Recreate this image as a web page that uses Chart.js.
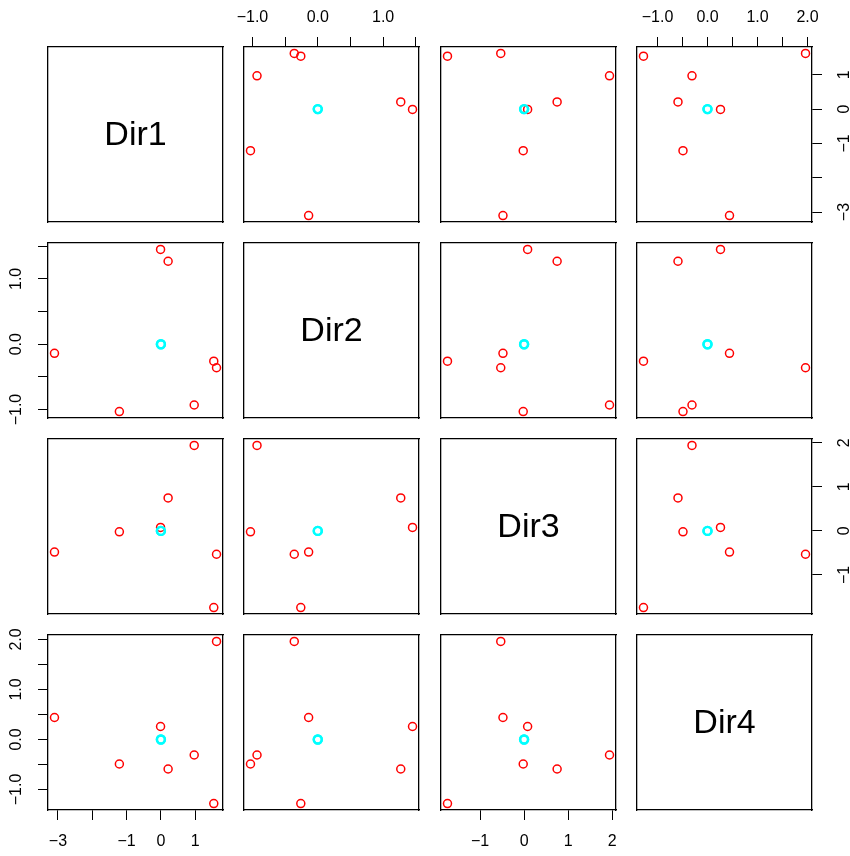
<!DOCTYPE html>
<html>
<head>
<meta charset="utf-8">
<title>pairs Dir1-Dir4</title>
<script src="https://cdn.jsdelivr.net/npm/chart.js@4.4.0/dist/chart.umd.min.js"></script>
<style>
  body { margin: 0; background: #fff; }
  #wrap { position: relative; width: 850px; height: 856px; }
  #wrap canvas { position: absolute; }
</style>
</head>
<body>
<div id="wrap"></div>
<script>
// variable names (diagonal)
const varNames = ['Dir1', 'Dir2', 'Dir3', 'Dir4'];

// red observations, one value per observation
const dir1 = [-3.10, -1.21, -0.01, 0.21, 0.97, 1.54, 1.62];
const dir2 = [-0.14, -1.03, 1.45, 1.27, -0.93, -0.26, -0.36];
const dir3 = [-0.48, -0.02, 0.08, 0.75, 1.94, -1.74, -0.53];
const dir4 = [0.44, -0.49, 0.26, -0.59, -0.31, -1.28, 1.96];

// cyan observations (all sit at the origin)
const cyan1 = [0, 0];
const cyan2 = [0, 0];
const cyan3 = [0, 0];
const cyan4 = [0, 0];

// tick values and labels for each variable
const dir1Ticks = [-3, -2, -1, 0, 1];
const dir1Labels = ['\u22123', '', '\u22121', '0', '1'];
const dir2Ticks = [-1, -0.5, 0, 0.5, 1, 1.5];
const dir2Labels = ['\u22121.0', '', '0.0', '', '1.0', ''];
const dir3Ticks = [-1, 0, 1, 2];
const dir3Labels = ['\u22121', '0', '1', '2'];
const dir4Ticks = [-1, -0.5, 0, 0.5, 1, 1.5, 2];
const dir4Labels = ['\u22121.0', '', '0.0', '', '1.0', '', '2.0'];

const cols = [dir1, dir2, dir3, dir4];
const cyanCols = [cyan1, cyan2, cyan3, cyan4];
const tickVals = [dir1Ticks, dir2Ticks, dir3Ticks, dir4Ticks];
const tickLabs = [dir1Labels, dir2Labels, dir3Labels, dir4Labels];

// layout of the 4x4 grid
const panelLeft = [48, 244, 441, 637];
const panelTop = [47, 243, 439, 635];
const panelSize = 175;
const M = 45;

Chart.defaults.font.family = '"Liberation Sans", Arial, Helvetica, sans-serif';
Chart.defaults.font.size = 16;
Chart.defaults.color = '#000';

// R style range: data range stretched by 4% on each side
function range4(v) {
  const all = v.concat([0]);
  const lo = Math.min(...all), hi = Math.max(...all);
  const d = (hi - lo) * 0.04;
  return [lo - d, hi + d];
}

const diagLabel = {
  id: 'diagLabel',
  afterDraw(chart, args, opts) {
    if (!opts.text) return;
    const { ctx, chartArea: a } = chart;
    ctx.save();
    ctx.font = '34px "Liberation Sans", Arial, sans-serif';
    ctx.fillStyle = '#000';
    ctx.textAlign = 'center';
    ctx.textBaseline = 'middle';
    ctx.fillText(opts.text, (a.left + a.right) / 2, (a.top + a.bottom) / 2 + 1);
    ctx.restore();
  }
};

function axis(position, v, show) {
  const isY = position === 'left' || position === 'right';
  const [lo, hi] = range4(cols[v]);
  const pad = { top: 10, bottom: 12, left: 5.5, right: 13 }[position];
  return {
    type: 'linear',
    position: position,
    min: lo,
    max: hi,
    afterBuildTicks: s => { s.ticks = tickVals[v].map(t => ({ value: t })); },
    afterFit: s => { if (isY) s.width = M; else s.height = M; },
    grid: { display: show, drawOnChartArea: false, drawTicks: true, tickLength: 10, color: '#000', lineWidth: 1 },
    border: { display: true, color: '#000', width: 1.3 },
    ticks: {
      display: show,
      autoSkip: false,
      padding: pad,
      color: '#000',
      minRotation: isY ? 90 : 0,
      maxRotation: isY ? 90 : 0,
      crossAlign: isY ? 'center' : 'near',
      callback: val => {
        const i = tickVals[v].indexOf(val);
        return i < 0 ? '' : tickLabs[v][i];
      }
    }
  };
}

const wrap = document.getElementById('wrap');
const n = varNames.length;

for (let r = 0; r < n; r++) {
  for (let c = 0; c < n; c++) {
    const canvas = document.createElement('canvas');
    canvas.width = panelSize + 2 * M;
    canvas.height = panelSize + 2 * M;
    canvas.style.left = (panelLeft[c] - M) + 'px';
    canvas.style.top = (panelTop[r] - M) + 'px';
    wrap.appendChild(canvas);

    const datasets = [];
    if (r !== c) {
      datasets.push({
        data: cyanCols[c].map((x, i) => ({ x: x, y: cyanCols[r][i] })),
        pointRadius: 4,
        pointBorderWidth: 2.4,
        borderColor: '#00FFFF',
        backgroundColor: 'rgba(0,0,0,0)'
      });
      datasets.push({
        data: cols[c].map((x, i) => ({ x: x, y: cols[r][i] })),
        pointRadius: 4,
        pointBorderWidth: 1.5,
        borderColor: '#FF0000',
        backgroundColor: 'rgba(0,0,0,0)'
      });
    }

    new Chart(canvas, {
      type: 'scatter',
      data: { datasets: datasets },
      options: {
        responsive: false,
        animation: false,
        events: [],
        layout: { padding: 0 },
        scales: {
          x: axis('bottom', c, r === n - 1 && c % 2 === 0),
          xt: axis('top', c, r === 0 && c % 2 === 1),
          y: axis('left', r, c === 0 && r % 2 === 1),
          yr: axis('right', r, c === n - 1 && r % 2 === 0)
        },
        plugins: {
          legend: { display: false },
          tooltip: { enabled: false },
          diagLabel: { text: r === c ? varNames[r] : '' }
        }
      },
      plugins: [diagLabel]
    });
  }
}
</script>
</body>
</html>
